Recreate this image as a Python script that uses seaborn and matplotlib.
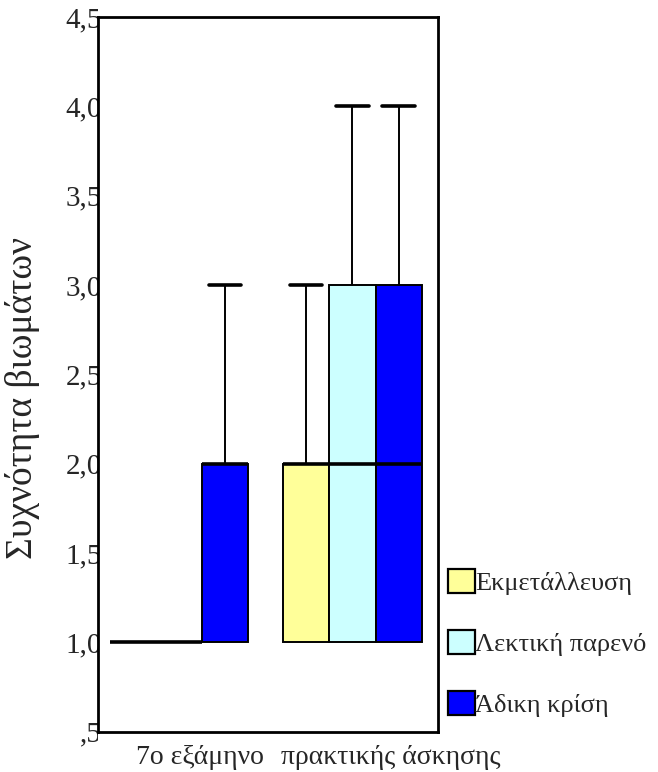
import numpy as np
import pandas as pd
import matplotlib
matplotlib.use("Agg")
import matplotlib.pyplot as plt
import matplotlib.transforms as mtransforms
from matplotlib.patches import Patch
import seaborn as sns

sns.set_theme(style="white")
plt.rcParams["font.family"] = ["Liberation Serif", "DejaVu Serif"]

# ---- data ----
groups = ["7ο εξάμηνο", "πρακτικής άσκησης"]
types = ["Εκμετάλλευση", "Λεκτική παρενό", "Άδικη κρίση"]
g1_ekm = [1, 1, 1, 1, 1]
g1_lek = [1, 1, 1, 1, 1]
g1_adi = [1, 1, 2, 2, 3]
g2_ekm = [1, 1, 2, 2, 3]
g2_lek = [1, 1, 2, 3, 4]
g2_adi = [1, 1, 2, 3, 4]
yticks = [0.5, 1.0, 1.5, 2.0, 2.5, 3.0, 3.5, 4.0, 4.5]
ytick_labels = [",5", "1,0", "1,5", "2,0", "2,5", "3,0", "3,5", "4,0", "4,5"]
colors = ["#FFFF99", "#CCFFFF", "#0000FF"]

series = {
    (groups[0], types[0]): g1_ekm,
    (groups[0], types[1]): g1_lek,
    (groups[0], types[2]): g1_adi,
    (groups[1], types[0]): g2_ekm,
    (groups[1], types[1]): g2_lek,
    (groups[1], types[2]): g2_adi,
}
rows = []
for (g, t), vals in series.items():
    for v in vals:
        rows.append({"group": g, "type": t, "value": v})
df = pd.DataFrame(rows)

W, H = 658, 772
fig = plt.figure(figsize=(W / 100, H / 100), dpi=100)
ax_l, ax_r, ax_b, ax_t = 98, 437.5, 731.5, 17
ax = fig.add_axes([ax_l / W, 1 - ax_b / H, (ax_r - ax_l) / W, (ax_b - ax_t) / H])

sns.boxplot(
    data=df, x="group", y="value", hue="type",
    order=groups, hue_order=types, palette=colors, saturation=1,
    width=0.8, gap=0, linecolor="black", linewidth=1.4,
    medianprops={"linewidth": 2.6, "color": "black"},
    capprops={"linewidth": 2.6, "color": "black"},
    whiskerprops={"linewidth": 1.4, "color": "black"},
    showfliers=False, legend=False, ax=ax,
)

# caps ~70% of box width; hide zero-length whiskers and their caps
half_cap = 0.35 * 0.8 / 3
for cont in ax.containers:
    whiskers = getattr(cont, "whiskers", [])
    caps = getattr(cont, "caps", [])
    for w, c in zip(whiskers, caps):
        wy = np.asarray(w.get_ydata(), dtype=float)
        cx = np.asarray(c.get_xdata(), dtype=float)
        mid = cx.mean()
        c.set_xdata([mid - half_cap, mid + half_cap])
        if abs(wy[1] - wy[0]) < 1e-9:
            w.set_visible(False)
            c.set_visible(False)

ax.set_xlim(-0.468, 1.491)
ax.set_ylim(0.5, 4.5)
ax.set_yticks(yticks)
ax.set_yticklabels(ytick_labels, fontsize=21)
ax.tick_params(axis="y", length=0, pad=-3)
ax.tick_params(axis="x", length=6, width=1.4, direction="out", color="black", labelsize=20, pad=4)
ax.set_xlabel("")
ax.set_ylabel("Συχνότητα βιωμάτων", fontsize=27)
ax.yaxis.set_label_coords(-0.172, 0.467)

for s in ax.spines.values():
    s.set_color("black")
    s.set_linewidth(2)
    s.set_visible(True)

# shift x tick labels like the reference
offsets = [21, 38]
for lab, off in zip(ax.get_xticklabels(), offsets):
    lab.set_transform(lab.get_transform() + mtransforms.ScaledTranslation(off / 100, 0, fig.dpi_scale_trans))

# clip y tick labels at the left spine
clip = mtransforms.TransformedBbox(mtransforms.Bbox([[0, 0], [ax_l / W, 1]]), fig.transFigure)
for lab in ax.get_yticklabels():
    lab.set_clip_box(clip)
    lab.set_clip_on(True)

handles = [Patch(facecolor=c, edgecolor="black", linewidth=1.6) for c in colors]
fig.legend(handles, types, loc="center left", bbox_to_anchor=(448 / W, 1 - 643 / H),
           frameon=False, fontsize=19, handlelength=1.02, handleheight=1.02,
           handletextpad=0.02, labelspacing=1.33, borderpad=0, borderaxespad=0)

fig.savefig("out.png", dpi=100)
